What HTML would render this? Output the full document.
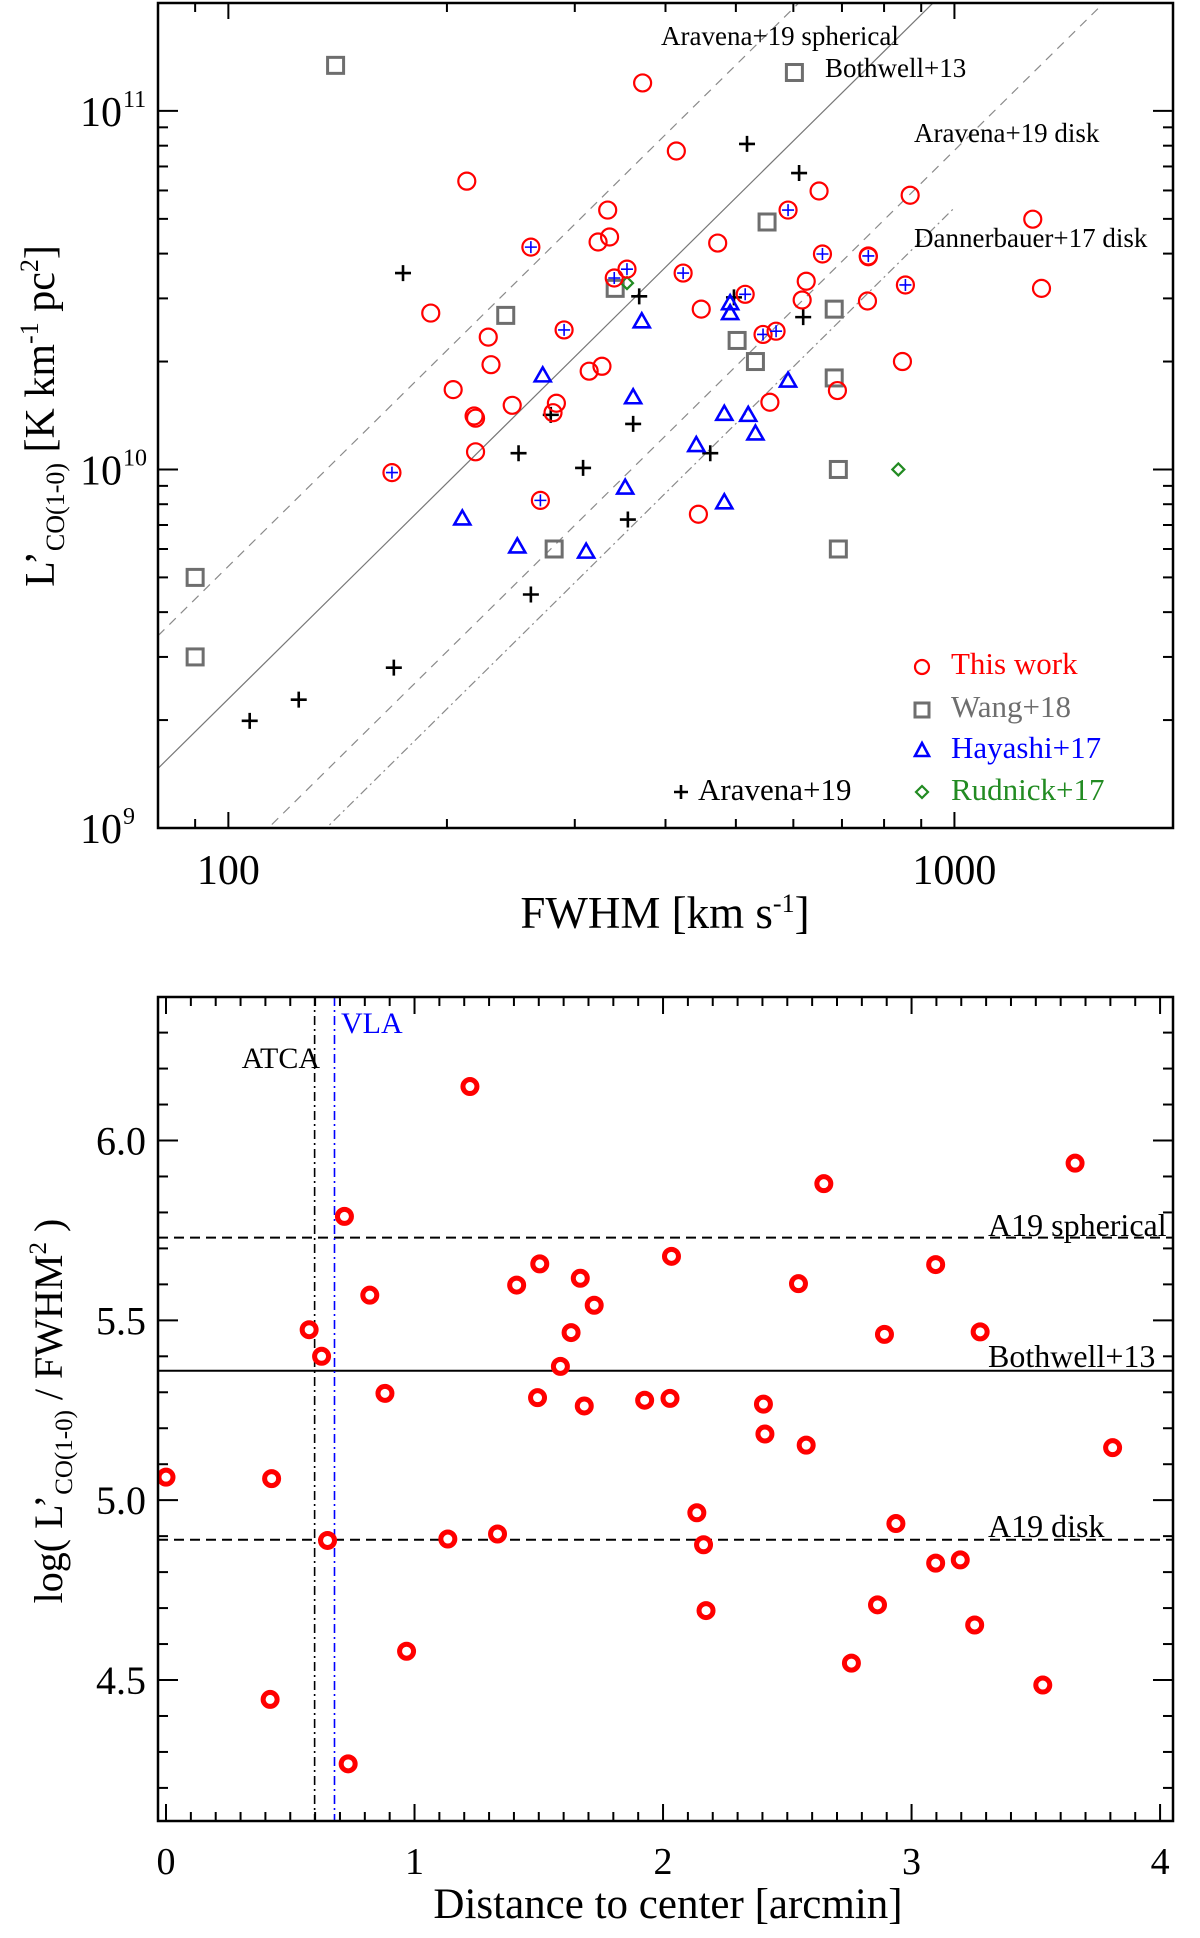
<!DOCTYPE html>
<html><head><meta charset="utf-8"><style>
html,body{margin:0;padding:0;background:#fff}
svg{display:block;font-family:"Liberation Serif",serif}
</style></head><body>
<svg id="fig" width="1200" height="1938" viewBox="0 0 1200 1938" xmlns="http://www.w3.org/2000/svg">
<defs>
<clipPath id="clipTop"><rect x="158" y="3" width="1015" height="825"/></clipPath>
<clipPath id="clipBot"><rect x="158" y="997" width="1015" height="824"/></clipPath>
</defs>
<g id="topPanel"></g>
<g id="botPanel"></g>
</svg>
<script>
// ---------- Top panel data ----------
const thisWorkFwhm = [372,213,333,335,323,261,354,340,190,290,228,230,204,314,327,246,283,218,280,219,414,651,869,1282,590,472,423,658,761,761,625,856,1318,515,448,617,759,545,568,848,690,557,219,168,269,444];
const thisWorkL    = [11.97,6.37,5.29,4.45,4.31,4.17,3.62,3.42,2.73,2.45,2.34,1.96,1.67,1.88,1.94,1.51,1.53,1.41,1.44,1.39,7.73,5.98,5.82,4.99,5.29,4.28,3.53,3.99,3.94,3.92,3.35,3.27,3.20,3.08,2.80,2.97,2.95,2.38,2.43,2.00,1.66,1.54,1.12,0.98,0.82,0.75];
const thisWorkInA19 = [0,0,0,0,0,1,1,1,0,1,0,0,0,0,0,0,0,0,0,0,0,0,0,0,1,0,1,1,1,0,0,1,0,1,0,0,0,1,1,0,0,0,0,1,1,0];
const wangFwhm = [140.5,602,552,341,241,683,502,532,683,692,692,281,90,90];
const wangL    = [13.4,12.8,4.90,3.20,2.69,2.80,2.29,2.00,1.80,1.00,0.60,0.60,0.50,0.30];
const hayashiFwhm = [371,271,361,491,491,590,482,520,532,441,482,352,210,250,311];
const hayashiL    = [2.59,1.83,1.59,2.91,2.73,1.77,1.43,1.42,1.26,1.17,0.81,0.89,0.73,0.61,0.59];
const rudnickFwhm = [354,837];
const rudnickL    = [3.31,1.00];
const aravenaFwhm = [518,611,174,368,497,619,278,361,251,308,355,461,261,169,125,107];
const aravenaL    = [8.09,6.71,3.53,3.04,3.02,2.66,1.42,1.34,1.11,1.01,0.725,1.11,0.448,0.280,0.228,0.199];
const relationNames = ["Aravena+19 spherical","Bothwell+13","Aravena+19 disk","Dannerbauer+17 disk"];
const relationLogRatio = [5.73,5.36,4.89,4.73];
const relationMaxFwhm = [2000,2000,2000,1000];
// ---------- Bottom panel data ----------
const distArcmin = [0,0.425,0.419,0.576,0.626,0.650,0.718,0.733,0.820,0.881,0.968,1.223,1.134,1.334,1.411,1.504,1.495,1.587,1.630,1.667,1.683,1.723,1.926,2.028,2.034,2.136,2.163,2.173,2.404,2.410,2.545,2.576,2.647,2.758,2.863,2.891,2.937,3.097,3.097,3.196,3.254,3.276,3.528,3.658,3.809];
const logRatio = [5.064,5.060,4.446,5.474,5.400,4.888,5.789,4.267,5.570,5.297,4.580,6.150,4.892,4.906,5.598,5.657,5.285,5.372,5.466,5.617,5.262,5.542,5.278,5.283,5.678,4.965,4.876,4.693,5.267,5.184,5.602,5.153,5.880,4.547,4.709,5.461,4.935,5.655,4.825,4.834,4.653,5.468,4.486,5.937,5.146];
const hLineValues = [5.73,5.36,4.89];
const hLineLabels = ["A19 spherical","Bothwell+13","A19 disk"];
const beamLimits = [0.598,0.678];
const beamLabels = ["ATCA","VLA"];
const topXTicks = [100,1000];
const topYTicks = [1e9,1e10,1e11];
const botXTicks = [0,1,2,3,4];
const botYTicks = ["4.5","5.0","5.5","6.0"];

const NS="http://www.w3.org/2000/svg";
function mk(tag,attrs,parent){const e=document.createElementNS(NS,tag);for(const k in attrs)e.setAttribute(k,attrs[k]);parent.appendChild(e);return e;}

const TL=158,TR=1173,TT=3,TB=828;
const fMin=80,fMax=2000,lMin=1e9,lMax=2e11;
function xT(f){return TL+(Math.log10(f)-Math.log10(fMin))/(Math.log10(fMax)-Math.log10(fMin))*(TR-TL);}
function yT(L){return TB-(Math.log10(L)-Math.log10(lMin))/(Math.log10(lMax)-Math.log10(lMin))*(TB-TT);}
const BL=158,BR=1173,BT=997,BB=1821;
const dMin=-0.0322,dMax=4.052,vMin=4.108,vMax=6.399;
function xB(d){return BL+(d-dMin)/(dMax-dMin)*(BR-BL);}
function yB(v){return BB-(v-vMin)/(vMax-vMin)*(BB-BT);}

const gTop=document.getElementById('topPanel'), gBot=document.getElementById('botPanel');

// ----- Top panel -----
const rel=mk('g',{'clip-path':'url(#clipTop)'},gTop);


const relStyles=[{d:'9,7',c:'#8a8a8a'},{d:'none',c:'#777'},{d:'9,7',c:'#8a8a8a'},{d:'9,4,2,4',c:'#8a8a8a'}];
relationLogRatio.forEach((c,i)=>{
  const f1=fMin,f2=relationMaxFwhm[i];
  const L1=Math.pow(10,c+2*Math.log10(f1)),L2=Math.pow(10,c+2*Math.log10(f2));
  const ln=mk('line',{x1:xT(f1),y1:yT(L1),x2:xT(f2),y2:yT(L2),stroke:relStyles[i].c,'stroke-width':1.2,'stroke-dasharray':relStyles[i].d},rel);
  
  
});
const relLabelPos=[[661,45],[825,77],[914,142],[914,247]];
relationNames.forEach((n,i)=>{
  const t=mk('text',{x:relLabelPos[i][0],y:relLabelPos[i][1],'font-size':27,fill:'#000'},gTop);
  t.textContent=n;
  
  
});

const marks=mk('g',{'clip-path':'url(#clipTop)'},gTop);


function plus(g,x,y,a,col,w){mk('path',{d:`M${x-a},${y}H${x+a}M${x},${y-a}V${y+a}`,stroke:col,'stroke-width':w,fill:'none'},g);}
aravenaFwhm.forEach((f,i)=>{const g=mk('g',{},marks);plus(g,xT(f),yT(aravenaL[i]*1e10),8,'#000',2.6);});
wangFwhm.forEach((f,i)=>{const x=xT(f),y=yT(wangL[i]*1e10);const r=mk('rect',{x:x-8,y:y-8,width:16,height:16,fill:'none',stroke:'#6e6e6e','stroke-width':3},marks);});
hayashiFwhm.forEach((f,i)=>{const x=xT(f),y=yT(hayashiL[i]*1e10);const p=mk('path',{d:`M${x},${y-8}L${x+8},${y+6}L${x-8},${y+6}Z`,fill:'none',stroke:'#0000ff','stroke-width':2.6},marks);});
rudnickFwhm.forEach((f,i)=>{const x=xT(f),y=yT(rudnickL[i]*1e10);const p=mk('path',{d:`M${x},${y-6}L${x+6},${y}L${x},${y+6}L${x-6},${y}Z`,fill:'none',stroke:'#228b22','stroke-width':2.2},marks);});
thisWorkFwhm.forEach((f,i)=>{const x=xT(f),y=yT(thisWorkL[i]*1e10);const g=mk('g',{},marks);mk('circle',{cx:x,cy:y,r:8.5,fill:'none',stroke:'#ff0000','stroke-width':2.2},g);if(thisWorkInA19[i])plus(g,x,y,6,'#0000ff',1.6);});

function drawFrame(g,L,R,T,B){const r=mk('rect',{x:L,y:T,width:R-L,height:B-T,fill:'none',stroke:'#000','stroke-width':2.5},g);}
drawFrame(gTop,TL,TR,TT,TB);
const tk=mk('g',{stroke:'#000','stroke-width':2},gTop);


const xMinor=[90,200,300,400,500,600,700,800,900];
xMinor.forEach(f=>{const x=xT(f);mk('line',{x1:x,y1:TB,x2:x,y2:TB-9},tk);mk('line',{x1:x,y1:TT,x2:x,y2:TT+9},tk);});
topXTicks.forEach(f=>{const x=xT(f);mk('line',{x1:x,y1:TB,x2:x,y2:TB-16},tk);mk('line',{x1:x,y1:TT,x2:x,y2:TT+16},tk);
  const t=mk('text',{x:x,y:884,'font-size':42,'text-anchor':'middle',fill:'#000',stroke:'none'},gTop);t.textContent=String(f);});
[1e9,1e10].forEach(b=>{for(let k=2;k<=9;k++){const y=yT(b*k);mk('line',{x1:TL,y1:y,x2:TL+10,y2:y},tk);mk('line',{x1:TR,y1:y,x2:TR-10,y2:y},tk);}});
topYTicks.forEach(v=>{const y=yT(v);mk('line',{x1:TL,y1:y,x2:TL+20,y2:y},tk);mk('line',{x1:TR,y1:y,x2:TR-20,y2:y},tk);
  const t=mk('text',{x:122,y:y+15,'font-size':42,'text-anchor':'end',fill:'#000',stroke:'none'},gTop);t.textContent='10';
  const s=mk('text',{x:123,y:y-4,'font-size':24,fill:'#000',stroke:'none'},gTop);s.textContent=String(Math.round(Math.log10(v)));});
const xt=mk('text',{x:665,y:928,'font-size':45,'text-anchor':'middle'},gTop);


xt.innerHTML='FWHM [km s<tspan dy="-16" font-size="26">-1</tspan><tspan dy="16">]</tspan>';
const yt=mk('text',{x:0,y:0,'font-size':42,'text-anchor':'middle',transform:'translate(54,416) rotate(-90)'},gTop);


yt.innerHTML='L\u2019<tspan dy="10" font-size="26">CO(1-0)</tspan><tspan dy="-10"> [K km</tspan><tspan dy="-16" font-size="26">-1</tspan><tspan dy="16"> pc</tspan><tspan dy="-16" font-size="26">2</tspan><tspan dy="16">]</tspan>';
const leg=mk('g',{},gTop);


mk('circle',{cx:922,cy:667,r:7,fill:'none',stroke:'#f00','stroke-width':2.2},leg);
mk('rect',{x:915,y:703,width:14,height:14,fill:'none',stroke:'#6e6e6e','stroke-width':3},leg);
mk('path',{d:'M922,743L929,756L915,756Z',fill:'none',stroke:'#00f','stroke-width':2.6},leg);
mk('path',{d:'M922,786L928,792L922,798L916,792Z',fill:'none',stroke:'#228b22','stroke-width':2.2},leg);
plus(leg,681,792,7,'#000',2.6);
[['This work','#ff0000',674],['Wang+18','#6e6e6e',717],['Hayashi+17','#0000ff',758],['Rudnick+17','#228b22',800]].forEach(a=>{const t=mk('text',{x:951,y:a[2],'font-size':31,fill:a[1]},leg);t.textContent=a[0];});
const at=mk('text',{x:698,y:800,'font-size':31,fill:'#000'},leg);at.textContent='Aravena+19';



// ----- Bottom panel -----
const bl=mk('g',{'clip-path':'url(#clipBot)'},gBot);


hLineValues.forEach((v,i)=>{const l=mk('line',{x1:BL,x2:BR,y1:yB(v),y2:yB(v),stroke:'#000','stroke-width':2,'stroke-dasharray':i==1?'none':'10,6'},bl);});
beamLimits.forEach((d,i)=>{const l=mk('line',{x1:xB(d),x2:xB(d),y1:BT,y2:BB,stroke:i==0?'#000':'#0000ff','stroke-width':1.6,'stroke-dasharray':'9,4,2,4'},bl);});
const hlPos=[1236,1367,1537];
hLineLabels.forEach((n,i)=>{const t=mk('text',{x:988,y:hlPos[i],'font-size':32,fill:'#000'},gBot);t.textContent=n;});
const t1=mk('text',{x:320,y:1068,'font-size':30,'text-anchor':'end'},gBot);t1.textContent=beamLabels[0];


const t2=mk('text',{x:341,y:1033,'font-size':30,fill:'#0000ff'},gBot);t2.textContent=beamLabels[1];


const bp=mk('g',{'clip-path':'url(#clipBot)'},gBot);


distArcmin.forEach((d,i)=>{const c=mk('circle',{cx:xB(d),cy:yB(logRatio[i]),r:7,fill:'#fff',stroke:'#ff0000','stroke-width':5},bp);});
drawFrame(gBot,BL,BR,BT,BB);
const bk=mk('g',{stroke:'#000','stroke-width':2},gBot);


for(let k=0;k<=40;k++){const d=k/10,x=xB(d),L=(k%10==0)?17:9;mk('line',{x1:x,y1:BB,x2:x,y2:BB-L},bk);mk('line',{x1:x,y1:BT,x2:x,y2:BT+L},bk);}
for(let k=42;k<=63;k++){const v=k/10,y=yB(v),L=(k%5==0)?20:10;mk('line',{x1:BL,y1:y,x2:BL+L,y2:y},bk);mk('line',{x1:BR,y1:y,x2:BR-L,y2:y},bk);}
botXTicks.forEach(d=>{const t=mk('text',{x:xB(d),y:1874,'font-size':38,'text-anchor':'middle'},gBot);t.textContent=String(d);});
botYTicks.forEach(s=>{const t=mk('text',{x:146,y:yB(parseFloat(s))+14,'font-size':40,'text-anchor':'end'},gBot);t.textContent=s;});
const bxt=mk('text',{x:668,y:1918,'font-size':43,'text-anchor':'middle'},gBot);bxt.textContent='Distance to center [arcmin]';


const byt=mk('text',{x:0,y:0,'font-size':40,'text-anchor':'middle',transform:'translate(62,1411) rotate(-90)'},gBot);


byt.innerHTML='log( L\u2019<tspan dy="10" font-size="25">CO(1-0)</tspan><tspan dy="-10"> / FWHM</tspan><tspan dy="-16" font-size="25">2</tspan><tspan dy="16"> )</tspan>';
</script>
</body></html>
